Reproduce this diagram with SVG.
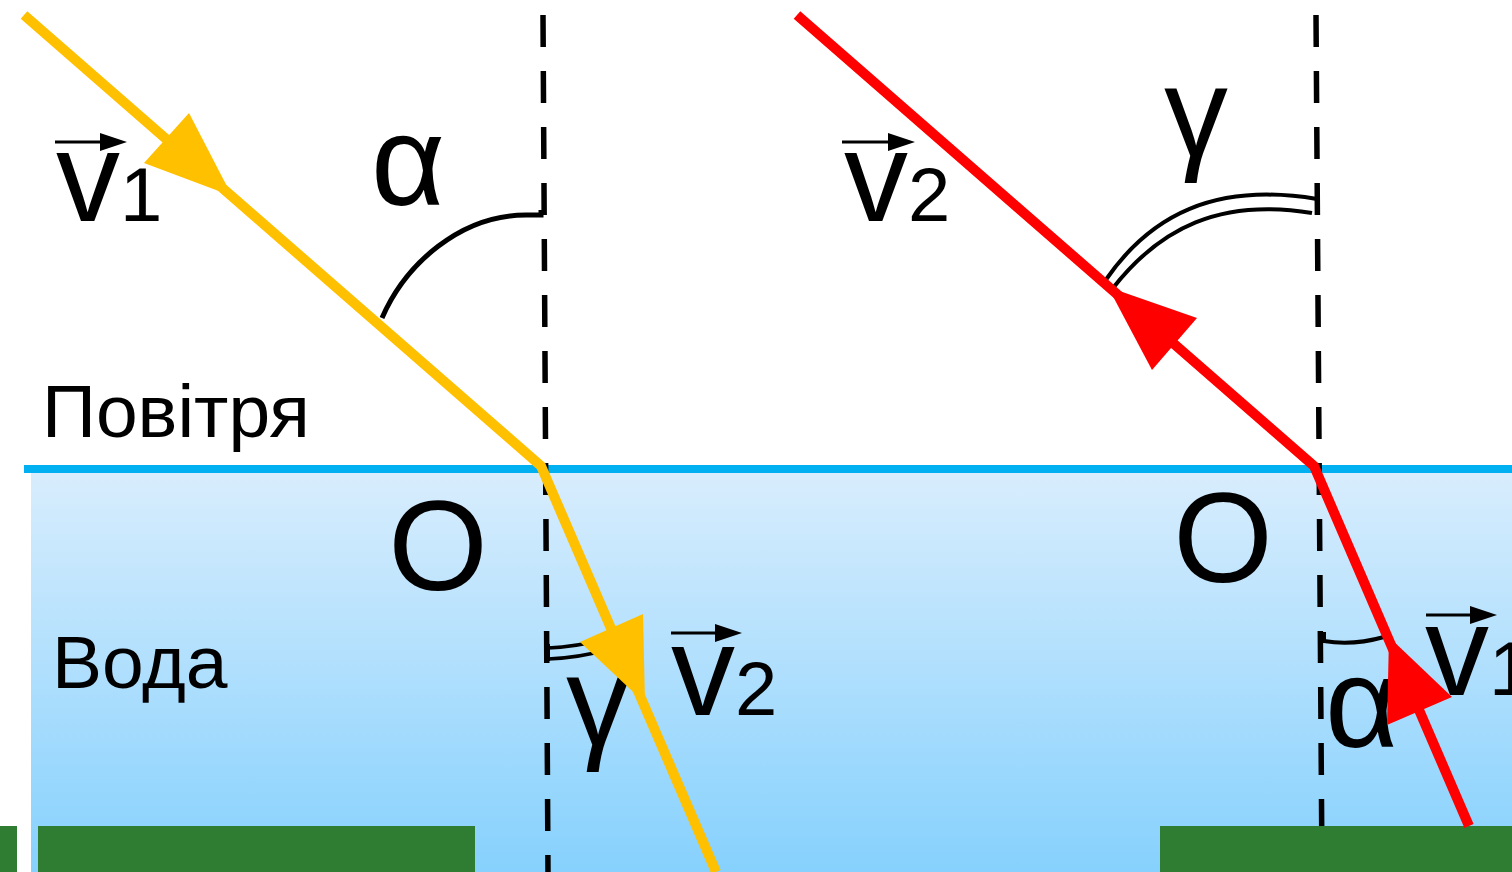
<svg xmlns="http://www.w3.org/2000/svg" width="1512" height="872" viewBox="0 0 1512 872">
<defs>
<linearGradient id="waterGrad" x1="0" y1="0" x2="0" y2="1">
<stop offset="0" stop-color="#d8edfd"/>
<stop offset="1" stop-color="#86d1fd"/>
</linearGradient>
<style>
.lbl{font-family:"Liberation Sans",Arial,sans-serif;fill:#000}
.big{font-size:128px}
.med{font-size:75px}
.sub{font-size:76px}
.normal{stroke:#000;stroke-width:5.5;stroke-dasharray:32 24;fill:none}
.ray-y{stroke:#ffc000;stroke-width:10;fill:none}
.ray-r{stroke:#ff0000;stroke-width:10;fill:none}
.arc{stroke:#000;fill:none}
.vec{stroke:#000;stroke-width:3}
.ground{fill:#2e7d32}
</style>
</defs>
<rect width="1512" height="872" fill="#ffffff"/>
<g id="water">
<rect x="31" y="473" width="1481" height="399" fill="url(#waterGrad)"/>
<line x1="24" y1="469" x2="1512" y2="469" stroke="#00b0f0" stroke-width="8"/>
</g>
<g id="normals">
<line class="normal" x1="543" y1="15" x2="548" y2="872"/>
<line class="normal" x1="1316" y1="15" x2="1322" y2="872"/>
</g>
<g id="ground">
<rect class="ground" x="0" y="826" width="17" height="46"/>
<rect class="ground" x="38" y="826" width="437" height="46"/>
<rect class="ground" x="1160" y="826" width="352" height="46"/>
</g>
<g id="media-labels">
<text class="lbl med" x="42" y="437">Повітря</text>
<text class="lbl med" x="52" y="688">Вода</text>
<text class="lbl big" x="438" y="590" text-anchor="middle">O</text>
<text class="lbl big" x="1223" y="582" text-anchor="middle">O</text>
</g>
<g id="angle-labels">
<text class="lbl big" x="371" y="205">α</text>
<text class="lbl big" x="566" y="745">γ</text>
<text class="lbl big" x="1164" y="156">γ</text>
<text class="lbl big" x="1325" y="747">α</text>
</g>
<g id="vector-labels">
<g id="v1-left">
<text class="lbl big" x="56" y="221">v<tspan class="sub">1</tspan></text>
<line class="vec" x1="55" y1="142" x2="105" y2="142"/>
<polygon points="100,133 127,142 100,151"/>
</g>
<g id="v2-right">
<text class="lbl big" x="844" y="221">v<tspan class="sub">2</tspan></text>
<line class="vec" x1="842" y1="142" x2="893" y2="142"/>
<polygon points="888,133 915,142 888,151"/>
</g>
<g id="v2-left">
<text class="lbl big" x="671" y="715">v<tspan class="sub">2</tspan></text>
<line class="vec" x1="671" y1="633" x2="720" y2="633"/>
<polygon points="715,624 742,633 715,642"/>
</g>
<g id="v1-right">
<text class="lbl big" x="1425" y="695">v<tspan class="sub">1</tspan></text>
<line class="vec" x1="1426" y1="615" x2="1475" y2="615"/>
<polygon points="1470,606 1497,615 1470,624"/>
</g>
</g>
<g id="angle-arcs">
<path class="arc" stroke-width="5" d="M382,318 C405,265 460,214 528,215 L541,215 L541,210"/>
<path class="arc" stroke-width="4" d="M1105,281 C1150,215 1215,182 1317,199"/>
<path class="arc" stroke-width="4" d="M1113,288 C1160,228 1220,198 1312,213"/>
<line class="arc" stroke-width="4" x1="1317" y1="196" x2="1317" y2="215"/>
<path class="arc" stroke-width="3.5" d="M548,648 Q575,647 612,638"/>
<path class="arc" stroke-width="3.5" d="M548,659 Q578,658 616,648"/>
<line class="arc" stroke-width="4" x1="548" y1="644" x2="548" y2="661"/>
<path class="arc" stroke-width="4" d="M1324,632 L1324,641 Q1352,646 1384,637"/>
</g>
<g id="connectors">
<polyline class="ray-y" points="24,15 541,466 716,872"/>
<polygon fill="#ffc000" points="189,113 144,163 232,196"/>
<polygon fill="#ffc000" points="643,614 580,642 645,703"/>
<polyline class="ray-r" points="797,15 1314,466 1469,826"/>
<polygon fill="#ff0000" points="1108,287 1197,318 1152,370"/>
<polygon fill="#ff0000" points="1389,637 1387,725 1452,697"/>
</g>
</svg>
